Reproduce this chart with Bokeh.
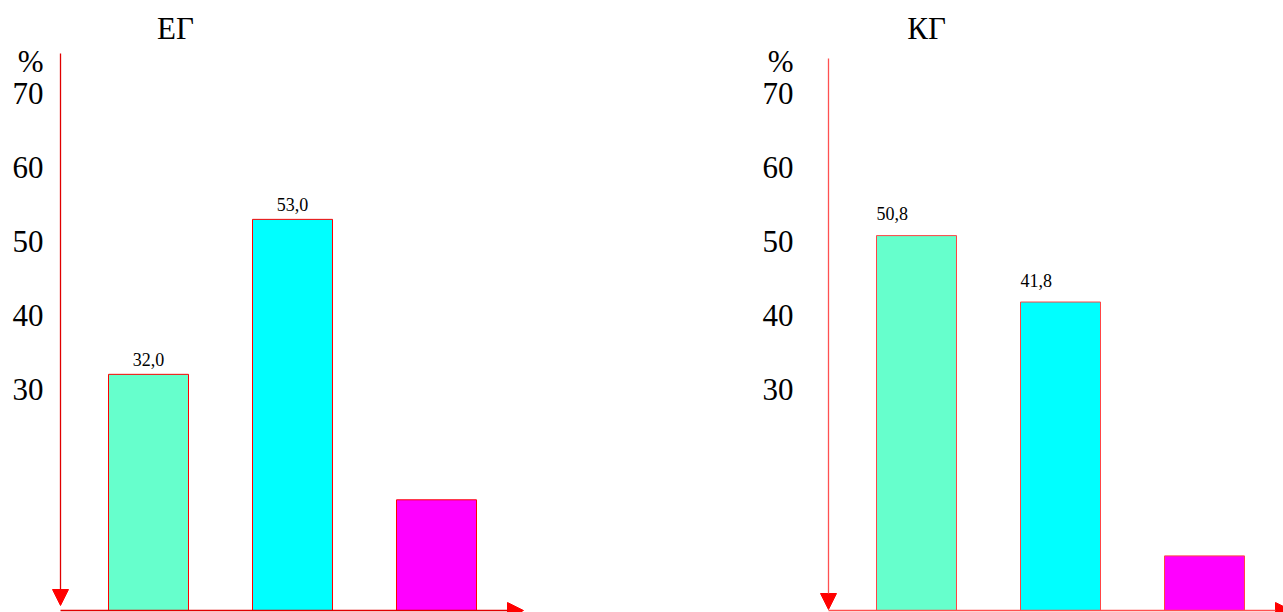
from bokeh.plotting import figure
from bokeh.layouts import row
from bokeh.models import ColumnDataSource, FixedTicker, Arrow, NormalHead
from bokeh.core.properties import value
from bokeh.embed import file_html
from bokeh.resources import INLINE

# Data
group_names = ["ЕГ", "КГ"]
bar_positions = [1, 2, 3]
eg_values = [32.0, 53.0, 15.0]
kg_values = [50.8, 41.8, 7.4]
labeled = [True, True, False]
y_ticks = [30, 40, 50, 60, 70]
unit_label = "%"

# Styling
bar_colors = ["#66FFCC", "#00FFFF", "#FF00FF"]
FONT = "Liberation Serif"
H = 612
BASE = 610          # pixel row of the zero line
PX_X = 144.0        # pixels per category step
PX_Y = 7.38         # pixels per percent
BAR_W = 80 / PX_X
X0 = 1 - 88 / PX_X  # data x of the vertical axis line
PAD = 12            # frame starts this many pixels left of the axis line
UNIT_POS = 74.4     # height of the unit sign above the top tick


def xd(px):
    """pixels right of the vertical axis line -> data x"""
    return X0 + px / PX_X


def yd(py):
    """pixels from the top of the canvas -> data y"""
    return (BASE - py) / PX_Y


def make_panel(name, values, width, axis_px, standoff, edge, axis_color,
               label_align, label_gap, axis_top, axis_tip, title_px):
    left = axis_px - PAD
    y0 = -(H - BASE) / PX_Y
    xs = xd(-PAD)
    p = figure(width=width, height=H,
               x_range=(xs, xs + (width - left) / PX_X),
               y_range=(y0, y0 + H / PX_Y),
               min_border=0, min_border_left=left,
               toolbar_location=None, output_backend="svg")
    p.outline_line_color = None
    p.grid.visible = False
    p.xaxis.visible = False
    p.background_fill_color = "white"
    p.border_fill_color = "white"

    ax = p.yaxis[0]
    ax.ticker = FixedTicker(ticks=y_ticks + [UNIT_POS])
    ax.major_label_overrides = {UNIT_POS: unit_label}
    ax.axis_line_color = None
    ax.major_tick_line_color = None
    ax.minor_tick_line_color = None
    ax.major_tick_out = 0
    ax.major_tick_in = 0
    ax.major_label_standoff = standoff
    ax.major_label_text_font = FONT
    ax.major_label_text_font_size = "31px"
    ax.major_label_text_color = "black"

    src = ColumnDataSource(dict(x=bar_positions, top=values, color=bar_colors))
    p.vbar(x="x", top="top", bottom=0, width=BAR_W, fill_color="color",
           line_color=edge, line_width=1, source=src)

    lx, ly, lt = [], [], []
    for x, v, flag in zip(bar_positions, values, labeled):
        if flag:
            lx.append(x if label_align == "center" else x - BAR_W / 2)
            ly.append(v)
            lt.append(f"{v:.1f}".replace(".", ","))
    p.text(x=lx, y=ly, text=lt, text_font=value(FONT), text_font_size="18px",
           text_align=label_align, text_baseline="alphabetic",
           y_offset=-label_gap, text_color="black")

    # panel caption
    p.text(x=[xd(title_px)], y=[yd(28)], text=[name], text_font=value(FONT),
           text_font_size="31px", text_align="center", text_baseline="alphabetic",
           text_color="black")

    # axes drawn as arrows
    p.add_layout(Arrow(end=NormalHead(size=16, fill_color="red", line_color="red"),
                       x_start=X0, y_start=yd(axis_top),
                       x_end=X0, y_end=yd(axis_tip),
                       line_color=axis_color, line_width=1.3))
    p.add_layout(Arrow(end=NormalHead(size=16, fill_color="red", line_color="red"),
                       x_start=X0, y_start=0, x_end=xd(463), y_end=0,
                       line_color=axis_color, line_width=1.5))
    return p


left_panel = make_panel(group_names[0], eg_values, 641, 60, 5, "#FF0000", "#E00000",
                        "center", 15, 53, 605, 115)
right_panel = make_panel(group_names[1], kg_values, 642, 187, 23, "#FF4444", "#FF5050",
                         "left", 22, 58, 609, 98)

layout = row(left_panel, right_panel)
open("out.html", "w").write(file_html(layout, INLINE))
